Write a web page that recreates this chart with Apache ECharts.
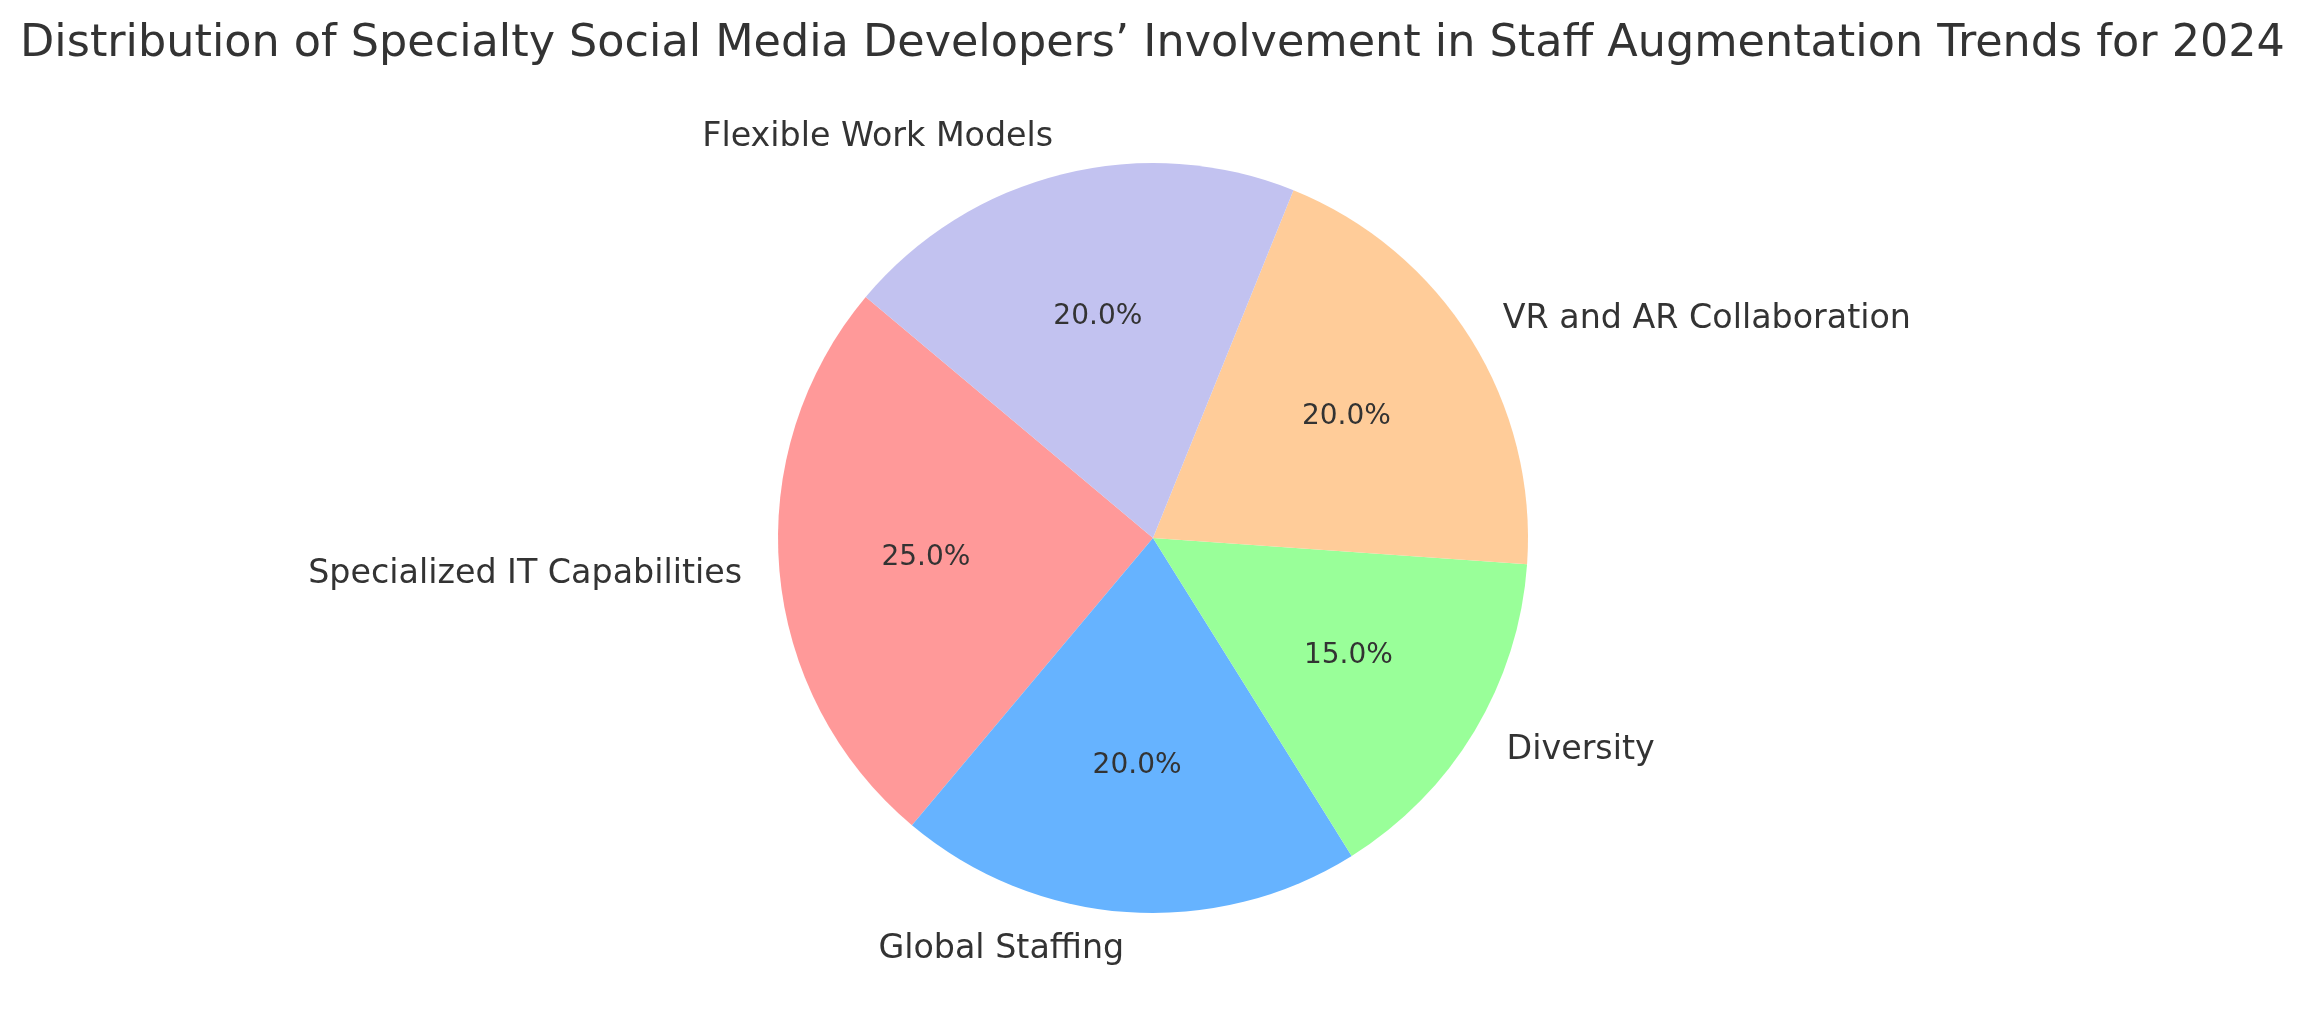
<!DOCTYPE html>
<html>
<head>
<meta charset="utf-8">
<script src="https://cdn.jsdelivr.net/npm/echarts@6/dist/echarts.min.js"></script>
<style>
  html, body { margin: 0; padding: 0; background: #ffffff; }
  #main { width: 2305px; height: 1027px; }
</style>
</head>
<body>
<div id="main"></div>
<script>
var categories = ['Specialized IT Capabilities', 'Global Staffing', 'Diversity', 'VR and AR Collaboration', 'Flexible Work Models'];
var shares = [25, 20, 15, 20, 20];
var colors = ['#ff9999', '#66b3ff', '#99ff99', '#ffcc99', '#c2c2f0'];

var cx = 1153, cy = 538, r = 375;
var textColor = '#333333';
var fontName = 'DejaVu Sans';

var pieData = [];
var pctData = [];
for (var i = 0; i < categories.length; i++) {
  pieData.push({ name: categories[i], value: shares[i], itemStyle: { color: colors[i] } });
  pctData.push({ name: categories[i], value: shares[i] });
}

var option = {
  backgroundColor: '#ffffff',
  animation: false,
  title: {
    text: 'Distribution of Specialty Social Media Developers\u2019 Involvement in Staff Augmentation Trends for 2024',
    left: 'center',
    top: 17,
    textStyle: { fontFamily: fontName, fontSize: 44.5, fontWeight: 'normal', color: textColor }
  },
  series: [
    {
      name: 'labels',
      type: 'pie',
      center: [cx, cy],
      radius: [0, r],
      startAngle: 140,
      clockwise: false,
      avoidLabelOverlap: false,
      silent: true,
      label: {
        show: true,
        position: 'outside',
        formatter: '{b}',
        distanceToLabelLine: 0,
        padding: [3, 0, 0, 0],
        fontFamily: fontName,
        fontSize: 33.3,
        color: textColor
      },
      labelLine: { show: false, length: r * 0.1, length2: 0 },
      emphasis: { disabled: true },
      data: pieData
    },
    {
      name: 'pct',
      type: 'pie',
      center: [cx, cy],
      radius: [0, r * 1.2],
      startAngle: 140,
      clockwise: false,
      avoidLabelOverlap: false,
      silent: true,
      z: 3,
      itemStyle: { color: 'rgba(0,0,0,0)' },
      label: {
        show: true,
        position: 'inside',
        formatter: function (p) { return p.value.toFixed(1) + '%'; },
        padding: [4, 0, 0, 0],
        fontFamily: fontName,
        fontSize: 28,
        color: textColor
      },
      labelLine: { show: false },
      emphasis: { disabled: true },
      data: pctData
    }
  ]
};

var myChart = echarts.init(document.getElementById('main'));
myChart.setOption(option);
</script>
</body>
</html>
